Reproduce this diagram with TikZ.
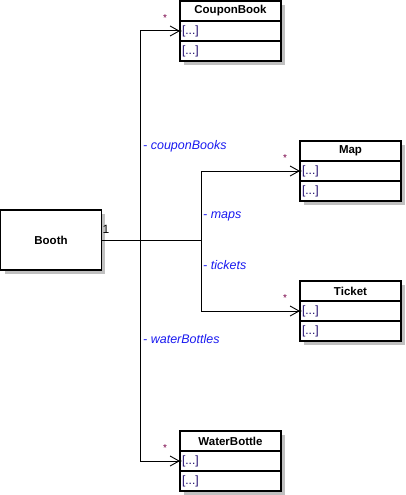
\documentclass[tikz,border=0pt]{standalone}
\usepackage{fontspec}
\setmainfont{Liberation Sans}
\usetikzlibrary{arrows.meta}
\definecolor{lblblue}{RGB}{25,25,240}
\definecolor{dotblue}{RGB}{30,10,110}
\definecolor{starred}{RGB}{120,0,70}
\definecolor{shadowgray}{RGB}{192,192,192}
\newcommand\umlclass[4]{%
  \fill[shadowgray] (#2+4,#3+4) rectangle (#2+105,#3+64);
  \node[clstitle] (#1) at (#2,#3) {#4};
  \node[clsattr] (#1-a) at (#1.south west) {[...]};
  \node[clsattr] (#1-o) at (#1-a.south west) {[...]};
}
\begin{document}
\begin{tikzpicture}[x=1pt,y=-1pt,
  clsrow/.style={draw, line width=1.1pt, fill=white, minimum width=101pt, minimum height=20pt,
    inner sep=0pt, outer sep=0pt, anchor=north west},
  clstitle/.style={clsrow, font=\fontsize{11.5}{13}\selectfont\bfseries},
  clsattr/.style={clsrow, inner xsep=2pt, text width=97pt, align=left,
    font=\fontsize{12}{13}\selectfont, text=dotblue},
  assoc/.style={line width=1pt, -{Straight Barb[length=9pt,width=10pt,line width=0.9pt]}},
  plain/.style={line width=1pt},
  rolelbl/.style={anchor=west, inner sep=0pt, text=lblblue, font=\fontsize{12.5}{14}\selectfont\itshape},
  multlbl/.style={inner sep=0pt, font=\fontsize{12}{13}\selectfont},
  starlbl/.style={inner sep=0pt, text=starred, font=\fontsize{10}{12}\selectfont},
]
\useasboundingbox (0,0) rectangle (405,495);

% Booth
\fill[shadowgray] (4.5,214) rectangle (105,274);
\node[clsrow, minimum height=60pt, font=\fontsize{11.5}{13}\selectfont\bfseries] (booth) at (0.5,210) {Booth};

\umlclass{cb}{180}{1}{CouponBook}
\umlclass{map}{300}{141}{Map}
\umlclass{tk}{300}{281}{Ticket}
\umlclass{wb}{180}{431}{WaterBottle}

\coordinate (j1) at (140,240);
\coordinate (j2) at (201,240);

\draw[plain] (booth.east) -- (j2);
\draw[assoc] (j1) |- (cb-a.west);
\draw[assoc] (j1) |- (wb-a.west);
\draw[assoc] (j2) |- (map-a.west);
\draw[assoc] (j2) |- (tk-a.west);
\foreach \n in {cb-a,wb-a,map-a,tk-a} \fill (\n.west) circle (1.6);

\node[multlbl] (m1) at (106,229) {1};
\node[starlbl] (s1) at (165,18) {*};
\node[starlbl] (s2) at (285,158) {*};
\node[starlbl] (s3) at (285,298) {*};
\node[starlbl] (s4) at (165,448) {*};

\node[rolelbl] (l1) at (143,146) {- couponBooks};
\node[rolelbl] (l2) at (203,216) {- maps};
\node[rolelbl] (l3) at (203,265) {- tickets};
\node[rolelbl] (l4) at (143,339) {- waterBottles};
\end{tikzpicture}
\end{document}
